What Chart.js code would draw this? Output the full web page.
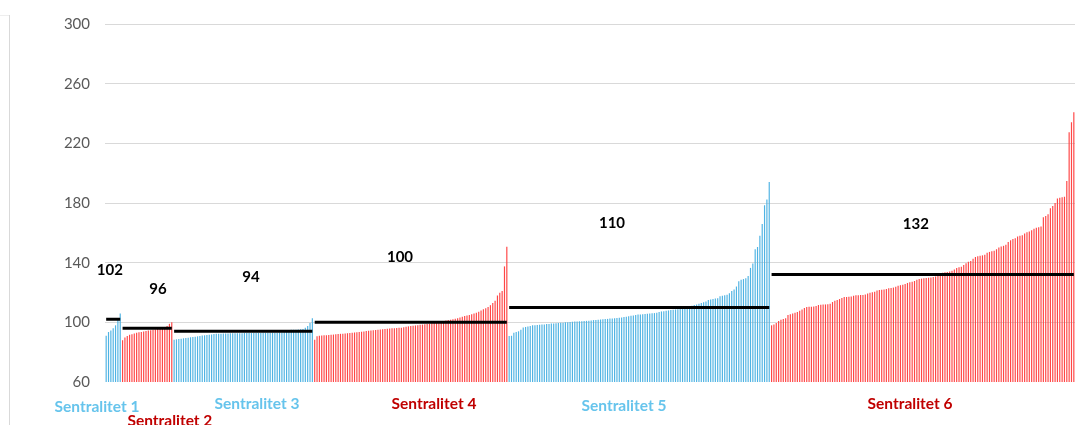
<!DOCTYPE html>
<html>
<head>
<meta charset="utf-8">
<script src="https://cdn.jsdelivr.net/npm/chart.js@4/dist/chart.umd.min.js"></script>
<style>
  html, body { margin: 0; padding: 0; background: #fff; }
  #wrap { position: relative; width: 1075px; height: 425px; }
  #frame { position: absolute; left: 9px; top: 15px; width: 0; height: 410px; border-left: 1px solid #d9d9d9; }
  #corner { position: absolute; left: 0; top: 15px; width: 9px; height: 0; border-top: 1px solid #eeeeee; }
</style>
</head>
<body>
<div id="wrap">
  <canvas id="c" width="1075" height="425"></canvas>
  <div id="frame"></div>
  <div id="corner"></div>
</div>
<script>
// Sorted values per centrality class
const sentralitet1 = [91.0, 93.5, 94.5, 96.0, 98.0, 102.0, 106.0];
const sentralitet2 = [88.0, 89.8, 90.9, 91.6, 92.0, 92.5, 93.0, 93.3, 93.6, 93.9, 94.2,
  94.5, 94.7, 95.0, 95.2, 95.5, 96.0, 96.4, 96.7, 97.6, 99.0, 100.0];
const sentralitet3 = [88.4, 88.6, 88.8, 89.0, 89.3, 89.5, 89.7, 90.0, 90.2, 90.4, 90.6, 90.8, 91.1,
  91.3, 91.5, 91.7, 91.9, 92.1, 92.3,
  92.4, 92.4, 92.5, 92.5, 92.5, 92.6, 92.6, 92.6, 92.7, 92.7, 92.7, 92.8, 92.8, 92.8, 92.8,
  92.9, 92.9, 92.9, 92.9, 93.0, 93.0, 93.0, 93.0, 93.1, 93.1, 93.1, 93.2, 93.2, 93.3,
  94.6, 94.8, 95.0, 95.0, 95.1, 95.2, 95.3, 95.5,
  96.4, 97.5, 99.5, 102.8];
const sentralitet4 = [88.4, 90.7, 91.0, 91.2, 91.3, 91.4, 91.5, 91.6, 91.8, 92.0, 92.1, 92.3, 92.4,
  92.5, 92.7, 92.8, 93.0, 93.2, 93.4, 93.5, 93.7, 93.9, 94.2, 94.4, 94.6, 94.7, 94.9, 95.0,
  95.2, 95.4, 95.5, 95.7, 95.8, 96.0, 96.1, 96.2, 96.3, 96.4, 96.7, 97.0, 97.3, 97.5, 97.7,
  97.9, 98.1, 98.3, 98.5, 98.7, 98.9, 99.1, 99.4, 99.7, 100.0, 100.3, 100.6, 100.9, 101.2,
  101.5, 101.8, 102.1, 102.4, 102.8, 103.2, 103.7, 104.2, 104.6, 105.0, 105.4, 105.9, 106.4,
  107.1, 107.9, 108.7, 109.4, 110.2, 111.5, 112.9, 114.5, 118.0, 119.8, 121.0, 137.5, 150.7];
const sentralitet5 = [90.9, 91.0, 93.0, 93.5, 94.0, 95.0, 96.5, 96.9, 97.2, 97.6,
  98.0, 98.1, 98.2, 98.4, 98.5, 98.6, 98.8, 98.9,
  99.2, 99.3, 99.4, 99.6, 99.7, 99.8, 100.0, 100.1,
  100.3, 100.4, 100.5, 100.6, 100.7, 100.8, 100.9, 101.0, 101.1, 101.2,
  101.5, 101.6, 101.8, 101.9, 102.0, 102.2, 102.3, 102.5, 102.6, 102.7, 102.9, 103.0, 103.2,
  103.5, 103.8, 104.1, 104.4, 104.6,
  105.0, 105.2, 105.3, 105.5, 105.6, 105.8, 105.9, 106.1, 106.2, 106.4,
  107.0, 107.3, 107.5, 107.8, 108.0, 108.2, 108.4, 108.6, 108.8, 109.0, 109.2, 109.5,
  110.5, 110.9, 111.2, 111.6, 112.0, 112.5, 113.0, 113.5, 114.0,
  115.0, 115.3, 115.6, 115.9, 116.2, 117.5, 117.8, 118.2, 118.5, 119.5, 121.0, 122.0, 124.0,
  127.5, 128.5, 129.0, 129.5, 131.0, 136.5, 139.5, 149.0, 150.5, 158.0, 166.0, 178.5, 182.4, 194.0];
const sentralitet6 = [98.0, 98.6, 99.6, 100.9, 101.8, 102.2, 102.8, 105.0, 105.4, 105.9,
  106.4, 107.0, 107.8, 108.6, 109.6, 110.2, 110.4, 110.5, 110.6, 110.9,
  111.6, 111.8, 112.0, 112.0, 112.2, 112.4, 113.6, 114.4, 115.0, 115.6,
  116.3, 116.9, 117.0, 117.2, 117.4, 117.8, 118.1, 118.2, 118.3, 118.4,
  118.6, 119.4, 119.9, 120.1, 120.5, 121.3, 121.7, 121.8, 122.0, 122.3,
  122.9, 123.1, 123.3, 123.8, 124.6, 124.9, 125.2, 125.7, 126.4, 126.9,
  127.2, 127.7, 128.5, 129.1, 129.3, 129.5, 129.7, 129.9, 130.1, 130.4,
  130.8, 131.6, 132.8, 133.2, 133.5, 133.7, 134.0, 134.5, 135.5, 136.4,
  136.9, 137.3, 138.4, 139.6, 140.6, 141.2, 142.6, 143.8, 144.3, 144.7,
  144.9, 145.3, 146.6, 147.2, 147.6, 148.0, 149.0, 150.2, 150.9, 151.3,
  152.0, 153.8, 155.0, 155.8, 156.4, 157.6, 158.0, 158.4, 159.6, 160.4,
  160.9, 161.8, 162.8, 163.4, 163.7, 164.2, 170.5, 171.3, 172.5, 176.5,
  178.0, 180.0, 183.0, 183.5, 183.8, 184.2, 194.7, 227.5, 234.2, 240.9];

const groupNames = ['Sentralitet 1', 'Sentralitet 2', 'Sentralitet 3',
                    'Sentralitet 4', 'Sentralitet 5', 'Sentralitet 6'];
const groupMeans = [102, 96, 94, 100, 110, 132];
const yTicks = [60, 100, 140, 180, 220, 260, 300];

const groups = [sentralitet1, sentralitet2, sentralitet3, sentralitet4, sentralitet5, sentralitet6];
const barColors = ['#4fb3e3', '#ff4646', '#4fb3e3', '#ff4646', '#4fb3e3', '#ff4646'];
const nameColors = ['#66c4ec', '#c00000', '#66c4ec', '#c00000', '#66c4ec', '#c00000'];

// Flatten the classes into one category axis
const values = [], colors = [], labels = [], starts = [];
groups.forEach((g, gi) => {
  starts.push(values.length);
  g.forEach((v, k) => {
    values.push(v);
    colors.push(barColors[gi]);
    labels.push(groupNames[gi] + ' #' + (k + 1));
  });
});

// One black mean line per class, spanning that class's bars
const meanSets = groupMeans.map((m, gi) => {
  const data = values.map(() => null);
  for (let k = 0; k < groups[gi].length; k++) data[starts[gi] + k] = m;
  return {
    type: 'line', data, borderColor: '#000', borderWidth: 3,
    pointRadius: 0, spanGaps: false, order: 0, borderCapStyle: 'butt'
  };
});

// Text placed along the axes: [category position, value or offset below plot]
const meanAnchors = [[1.6, 134.7], [22.1, 122], [61.8, 130], [125.4, 144], [215.9, 166.7], [345.6, 166]];
const nameAnchors = [[-3.9, 25], [27.2, 39], [64.4, 22], [139.9, 22], [221, 24], [343.1, 22]];

const annotate = {
  id: 'annotate',
  afterDatasetsDraw(chart) {
    const { ctx, scales: { x, y }, chartArea } = chart;
    ctx.save();
    ctx.textAlign = 'center';
    ctx.textBaseline = 'middle';
    ctx.font = 'bold 15px Lato';
    ctx.fillStyle = '#000';
    groupMeans.forEach((m, i) => {
      const a = meanAnchors[i];
      ctx.fillText(String(m), x.getPixelForValue(a[0]), y.getPixelForValue(a[1]));
    });
    ctx.font = 'bold 15.5px Lato';
    groupNames.forEach((name, i) => {
      const a = nameAnchors[i];
      ctx.fillStyle = nameColors[i];
      ctx.fillText(name, x.getPixelForValue(a[0]), chartArea.bottom + a[1]);
    });
    ctx.restore();
  }
};

new Chart(document.getElementById('c'), {
  type: 'bar',
  data: {
    labels,
    datasets: [
      ...meanSets,
      {
        type: 'bar', data: values, backgroundColor: colors,
        barPercentage: 0.5, categoryPercentage: 1.0, order: 1, borderWidth: 0
      }
    ]
  },
  options: {
    responsive: false,
    animation: false,
    devicePixelRatio: 1,
    layout: { padding: { left: 0, right: 0, top: 22, bottom: 43 } },
    plugins: { legend: { display: false }, tooltip: { enabled: false } },
    scales: {
      x: { display: false, offset: true },
      y: {
        min: 60, max: 300,
        afterFit(scale) { scale.width = 105; },
        afterBuildTicks(scale) { scale.ticks = yTicks.map(v => ({ value: v })); },
        border: { display: false },
        grid: {
          drawTicks: false,
          color: ctx => (ctx.tick && ctx.tick.value === 60) ? 'rgba(0,0,0,0)' : '#d9d9d9',
          lineWidth: 1
        },
        ticks: { padding: 15, color: '#595959', font: { family: 'Lato', size: 15 } }
      }
    }
  },
  plugins: [annotate]
});
</script>
</body>
</html>
